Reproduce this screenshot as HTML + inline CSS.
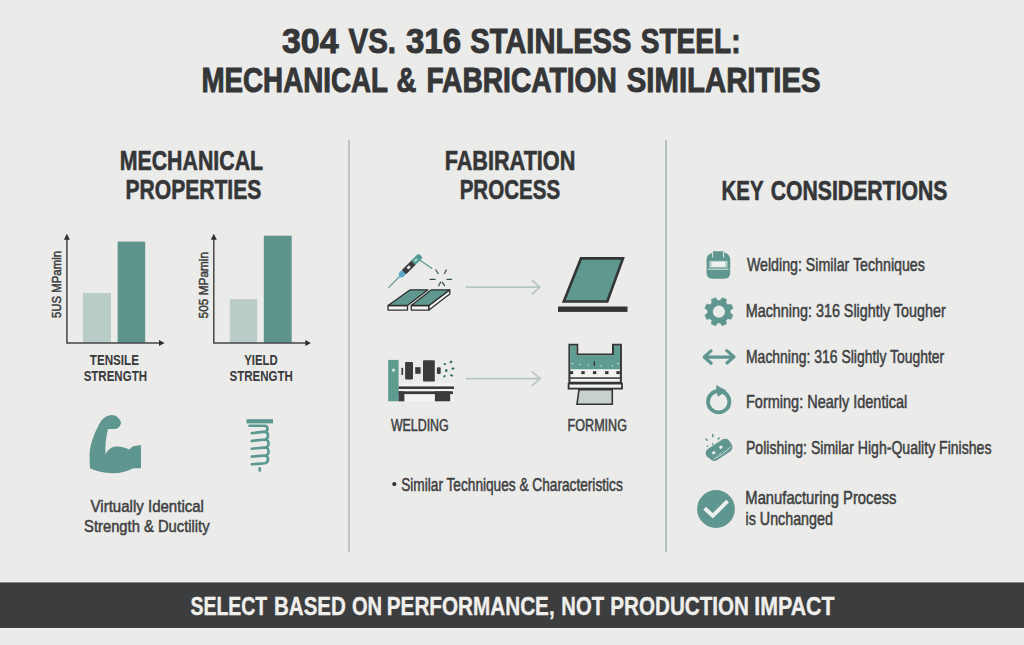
<!DOCTYPE html>
<html>
<head>
<meta charset="utf-8">
<style>
html,body{margin:0;padding:0;width:1024px;height:645px;overflow:hidden;background:#ebebea;}
svg{position:absolute;left:0;top:0;display:block;}
text{font-family:"Liberation Sans",sans-serif;}
.h{font-weight:bold;fill:#353638;stroke:#353638;stroke-width:0.6px;}
.t{font-weight:bold;fill:#353638;stroke:#353638;stroke-width:1px;}
.l{font-weight:bold;fill:#38393b;}
.b{font-weight:normal;fill:#3e3f41;stroke:#3e3f41;stroke-width:0.5px;}
.w{font-weight:bold;fill:#f1efeb;stroke:#f1efeb;stroke-width:0.4px;}
</style>
</head>
<body>
<svg width="1024" height="645" viewBox="0 0 1024 645">
  <!-- title -->

  <!-- dividers -->
  <rect x="348" y="140" width="2" height="412" fill="#bcc4c4"/>
  <rect x="665" y="140" width="2" height="412" fill="#b4c0c0"/>

  <!-- section headers -->

  <!-- chart 1 -->
  <rect x="83" y="293" width="28" height="50" fill="#b9ccc8"/>
  <rect x="117.6" y="241.6" width="27.6" height="101.4" fill="#5f948d"/>
  <path d="M66.9 237 V342.9 H161" fill="none" stroke="#45464a" stroke-width="1.5"/>
  <path d="M63.9,239.7 L66.9,233.8 L69.9,239.7 Z" fill="#2e2f31"/>
  <path d="M159,339.9 L164.6,342.9 L159,345.9 Z" fill="#2e2f31"/>
  <text class="b" transform="translate(60.5 318) rotate(-90)" font-size="12.5" textLength="67" lengthAdjust="spacingAndGlyphs">5US MPamin</text>

  <!-- chart 2 -->
  <rect x="229.8" y="299.2" width="27.4" height="43.8" fill="#b9ccc8"/>
  <rect x="263.8" y="235.7" width="27.9" height="107.3" fill="#5f948d"/>
  <path d="M213.8 237 V342.9 H307" fill="none" stroke="#45464a" stroke-width="1.5"/>
  <path d="M210.8,239.7 L213.8,233.8 L216.8,239.7 Z" fill="#2e2f31"/>
  <path d="M305.4,339.9 L310.9,342.9 L305.4,345.9 Z" fill="#2e2f31"/>
  <text class="b" transform="translate(207.5 318.4) rotate(-90)" font-size="12.5" textLength="66.5" lengthAdjust="spacingAndGlyphs">505 MPamin</text>

  <!-- muscle -->
  <path d="M101,421 C104,417 108,415 112,415 C116,415 119,418 121,422 C121,426 118,429 115,429 L108,429 C106,437 105,446 105.5,454.5 C108,449 112,446.5 117,446.5 C122,446.5 126,448 129.5,449.5 C132,446 136,445.3 141,445.3 L141,468.2 C138,468.5 135,468 132,468.8 C126,472 119,473.5 112,473.2 C104,473 96,471 90,468.2 C89.5,460 89.5,452 90,449.6 C92,438 96,430 101,421 Z" fill="#5f9690"/>

  <!-- spring -->
  <rect x="246.5" y="419.2" width="26.5" height="4.2" fill="#5a978f"/>
  <path d="M249.5,425.7 H265 A3.1,3 0 0 1 265,431.6 A3.6,4 0 0 1 265,439.5 A3.6,4 0 0 1 265,447.5 A3.6,4 0 0 1 265,455.5 A3.6,3.9 0 0 1 265,463.2 M265,431.6 L251.8,433.2 M265,439.5 L251.8,440.9 M265,447.5 L251.8,448.7 M265,455.5 L251.8,456.6 M265,463.2 L251.8,464.3" fill="none" stroke="#5a978f" stroke-width="2.6" stroke-linecap="round"/>
  <rect x="258.5" y="467" width="2.6" height="4.8" rx="1.2" fill="#5a978f"/>


  <!-- welding icon -->
  <g stroke-linecap="round">
    <line x1="398.8" y1="277.4" x2="388.7" y2="287.4" stroke="#5a9a90" stroke-width="1.3"/>
    <line x1="419" y1="259.5" x2="431.7" y2="268.3" stroke="#5a9a90" stroke-width="1.3"/>
    <g transform="translate(409.6 266.5) rotate(-45)">
      <path d="M-15.5,0 L-12,-2.6 H-7 V2.6 H-12 Z" fill="#5aa5c5"/>
      <ellipse cx="-10.5" cy="0" rx="3.6" ry="2.9" fill="#5aa5c5"/>
      <rect x="-8" y="-3" width="14" height="6" rx="0.8" fill="#3a3b3d"/>
      <rect x="5" y="-3" width="10.5" height="6" rx="1.5" fill="#4e9a92"/>
      <rect x="7" y="-1.3" width="4" height="2.4" rx="1" fill="#a8d0c8"/>
      <rect x="-3" y="-1.3" width="3.5" height="2.6" fill="#e8e8e8"/>
    </g>
    <g stroke="#2f4f4d" stroke-width="1.2">
      <line x1="435.8" y1="270" x2="438.1" y2="273.5"/>
      <line x1="446.3" y1="270" x2="444.5" y2="273.5"/>
      <line x1="430" y1="279.3" x2="435.2" y2="279.3"/>
      <line x1="446.9" y1="279.3" x2="451.5" y2="279.3"/>
      <line x1="438.7" y1="285.7" x2="440.5" y2="282.2"/>
      <line x1="442.2" y1="282.2" x2="444.5" y2="285.7"/>
    </g>
  </g>
  <g stroke="#2e2f31" stroke-width="1.3" stroke-linejoin="round">
    <rect x="388" y="305.5" width="19.5" height="4.6" fill="#f4f4f2"/>
    <rect x="411.3" y="305.5" width="17.5" height="4.6" fill="#f4f4f2"/>
    <path d="M449.8,289.8 V294 L429,310.1 V305.5 Z" fill="#f4f4f2"/>
    <path d="M410.2,289.8 H428 L407.5,305.5 H388.1 Z" fill="#5e988e"/>
    <path d="M431.4,289.8 H449.8 L428.8,305.5 H411.3 Z" fill="#5e988e"/>
  </g>

  <!-- arrows -->
  <g fill="none" stroke="#b6c5c6" stroke-width="1.6" stroke-linecap="round" stroke-linejoin="round">
    <path d="M466.2,287.1 H540 M532.3,280.3 L540,287.1 L532.3,293.9"/>
    <path d="M466.2,378.6 H540.2 M532.3,371.9 L540.2,378.6 L532.3,385.3"/>
  </g>

  <!-- sheet icon -->
  <path d="M581,258.4 H623 L607.3,301.5 H563.8 Z" fill="#5e988e" stroke="#333436" stroke-width="2.6" stroke-linejoin="miter"/>
  <rect x="558" y="306.5" width="69.5" height="5.4" fill="#333436"/>

  <!-- lathe icon -->
  <rect x="398.6" y="383.5" width="55.4" height="17.8" fill="#f3f3f2"/>
  <rect x="388.2" y="359.9" width="10.4" height="41.4" fill="#5e9c90"/>
  <ellipse cx="393.5" cy="370.1" rx="1.3" ry="1.7" fill="#f4f4f2"/>
  <g fill="#3a3b3d">
    <rect x="401.4" y="367.8" width="1.7" height="7.2" rx="0.7"/>
    <rect x="405.1" y="362" width="7.9" height="17.4" rx="0.8"/>
    <rect x="415.2" y="367.2" width="5.4" height="6.6"/>
    <rect x="423" y="360.2" width="11.8" height="21.3" rx="0.9"/>
    <rect x="436.9" y="367.2" width="3.8" height="6.8" rx="1.2"/>
    <rect x="398.6" y="386.4" width="55.4" height="2.6"/>
    <rect x="398.6" y="391.3" width="54.4" height="2.8"/>
    <rect x="398.6" y="391.3" width="5.8" height="10"/>
    <rect x="434.9" y="391.3" width="15.3" height="10"/>
  </g>
  <g fill="#2a6a5e">
    <ellipse cx="444.9" cy="364.1" rx="1.2" ry="1.1"/>
    <ellipse cx="451" cy="361.9" rx="1.5" ry="1.1" transform="rotate(-30 451 361.9)"/>
    <ellipse cx="453" cy="368.5" rx="1.7" ry="1" transform="rotate(-15 453 368.5)"/>
    <ellipse cx="446.3" cy="370.5" rx="1.2" ry="1.5"/>
    <ellipse cx="444.5" cy="376.3" rx="1" ry="1.3" transform="rotate(30 444.5 376.3)"/>
    <ellipse cx="451.6" cy="375.4" rx="1.7" ry="1" transform="rotate(20 451.6 375.4)"/>
  </g>

  <!-- press icon -->
  <path d="M569.4,344.7 H577.3 V354.6 H613 V344.7 H620.9 V382.7 H569.4 Z" fill="#f2f2f0" stroke="#333436" stroke-width="2"/>
  <path d="M570.4,345.7 H576.3 V355.6 H614 V345.7 H619.9 V369.3 H570.4 Z" fill="#5e9c92"/>
  <g fill="#333436">
    <rect x="569.8" y="371.2" width="3.4" height="2.9"/>
    <rect x="581.3" y="371.2" width="3.4" height="2.9"/>
    <rect x="592.9" y="371.2" width="3.4" height="2.9"/>
    <rect x="605.1" y="371.2" width="3.4" height="2.9"/>
    <rect x="616.4" y="371.2" width="3.4" height="2.9"/>
    <rect x="570" y="377.3" width="50" height="1.5"/>
  </g>
  <g fill="#d8e8e4">
    <circle cx="572.5" cy="363.5" r="0.8"/>
    <circle cx="580" cy="364.5" r="0.7"/>
    <circle cx="588.5" cy="365" r="0.7"/>
    <circle cx="601" cy="366" r="0.7"/>
    <circle cx="612.5" cy="366" r="0.7"/>
    <circle cx="618" cy="363.5" r="0.8"/>
  </g>
  <rect x="593.6" y="361.2" width="1.4" height="4.5" fill="#333436"/>
  <rect x="568.6" y="383.6" width="53.4" height="5" fill="#f2f2f0" stroke="#333436" stroke-width="1.8"/>
  <path d="M579,389.6 H612.3 V404.3 H577 Z" fill="#c9d1cd" stroke="#333436" stroke-width="1.6"/>

  <circle cx="394.3" cy="484.1" r="2.1" fill="#333436"/>

  <!-- right list -->
  <path d="M712,253 L713.2,251.2 H723.4 L724.5,252.6 Q729.5,254 730.2,258.5 V273 Q730.2,278.7 724.5,278.7 H712.3 Q706.6,278.7 706.6,273 V258.5 Q707.3,254.2 712,253 Z" fill="#5f9690"/>
  <g stroke="#e3eae8" stroke-width="1" fill="none">
    <line x1="712.6" y1="251.5" x2="712.6" y2="257.6"/>
    <line x1="723.6" y1="251.5" x2="723.6" y2="257.6"/>
    <line x1="708" y1="269.2" x2="728.6" y2="269.2"/>
  </g>
  <rect x="709.3" y="260.8" width="18.2" height="6.8" fill="#b9d2cd"/>
  <rect x="711.6" y="261.9" width="13.4" height="4.9" fill="#eef3f1"/>
  <path d="M730.11,313.10 L732.91,315.01 L731.15,319.26 L727.82,318.64 L725.84,320.62 L726.46,323.95 L722.21,325.71 L720.30,322.91 L717.50,322.91 L715.59,325.71 L711.34,323.95 L711.96,320.62 L709.98,318.64 L706.65,319.26 L704.89,315.01 L707.69,313.10 L707.69,310.30 L704.89,308.39 L706.65,304.14 L709.98,304.76 L711.96,302.78 L711.34,299.45 L715.59,297.69 L717.50,300.49 L720.30,300.49 L722.21,297.69 L726.46,299.45 L725.84,302.78 L727.82,304.76 L731.15,304.14 L732.91,308.39 L730.11,310.30 Z" fill="#5f9690" stroke="#5f9690" stroke-width="0.6" stroke-linejoin="round"/>
  <circle cx="718.9" cy="311.7" r="6.1" fill="#e8ebe9"/>
  <g fill="none" stroke="#5f9690" stroke-width="3.2" stroke-linecap="round" stroke-linejoin="round">
    <path d="M706,357.1 H732.5 M711,350.9 L704.2,357 L711.2,363.2 M726.8,350.6 L734,356.9 L727,363"/>
  </g>
  <circle cx="718.7" cy="401.7" r="10.7" fill="none" stroke="#5f9690" stroke-width="3.8"/>
  <path d="M716.4,385.6 L726,390.8 L718,396.2 Z" fill="#5f9690" stroke="#5f9690" stroke-width="0.8" stroke-linejoin="round"/>
  <!-- polishing -->
  <g transform="translate(718.8 449.2) rotate(-33)">
    <rect x="-12.8" y="-4" width="26.3" height="12.2" rx="5.6" fill="#5f9690"/>
    <path d="M-9.5,5.6 Q0,7.2 11.5,4.6 M-10.5,3.6 Q0,5.6 12.2,2.6" fill="none" stroke="#e3eae8" stroke-width="0.75"/>
    <rect x="-14" y="-6.2" width="27.4" height="10.4" rx="5.2" fill="#5f9690"/>
    <rect x="-7.8" y="-1.2" width="3.2" height="2.8" fill="#e6eeec"/>
    <rect x="1.2" y="-1.8" width="3.2" height="2.6" fill="#e6eeec"/>
  </g>
  <g stroke="#5a908a" stroke-width="1.4" stroke-linecap="round">
    <line x1="712.8" y1="434.4" x2="712.8" y2="436.8"/>
    <line x1="705.9" y1="439.1" x2="707.2" y2="440.3"/>
    <line x1="718.2" y1="438.9" x2="719.2" y2="438.1"/>
    <line x1="712.7" y1="443.6" x2="712.7" y2="444.2"/>
    <line x1="707.4" y1="445.9" x2="707.4" y2="446.5"/>
  </g>
  <circle cx="716" cy="509" r="18.9" fill="#5f968f"/>
  <path d="M704.6,508.2 L712.8,515.8 L727.6,501.2" fill="none" stroke="#ecf0ee" stroke-width="3.9" stroke-linecap="butt" stroke-linejoin="miter"/>


  <!-- banner -->
  <rect x="0" y="580.8" width="1024" height="1.6" fill="#f1f1f0"/>
  <rect x="0" y="628" width="1024" height="1.4" fill="#f1f1f0"/>
  <rect x="0" y="582.4" width="1024" height="45.6" fill="#3b3d3f"/>
  <!-- texts -->
  <text class="t" x="282.02" y="52.9" font-size="35.5" textLength="56.46" lengthAdjust="spacingAndGlyphs">304</text>
  <text class="t" x="348.60" y="52.9" font-size="35.5" textLength="47.43" lengthAdjust="spacingAndGlyphs">VS.</text>
  <text class="t" x="405.94" y="52.9" font-size="35.5" textLength="55.15" lengthAdjust="spacingAndGlyphs">316</text>
  <text class="t" x="470.26" y="52.9" font-size="35.5" textLength="161.18" lengthAdjust="spacingAndGlyphs">STAINLESS</text>
  <text class="t" x="640.69" y="52.9" font-size="35.5" textLength="99.91" lengthAdjust="spacingAndGlyphs">STEEL:</text>
  <text class="t" x="201.44" y="91.8" font-size="35.5" textLength="186.51" lengthAdjust="spacingAndGlyphs">MECHANICAL</text>
  <text class="t" x="396.59" y="91.8" font-size="35.5" textLength="19.87" lengthAdjust="spacingAndGlyphs">&amp;</text>
  <text class="t" x="426.42" y="91.8" font-size="35.5" textLength="190.38" lengthAdjust="spacingAndGlyphs">FABRICATION</text>
  <text class="t" x="626.76" y="91.8" font-size="35.5" textLength="193.89" lengthAdjust="spacingAndGlyphs">SIMILARITIES</text>
  <text class="h" x="119.67" y="170.1" font-size="27" textLength="143.48" lengthAdjust="spacingAndGlyphs">MECHANICAL</text>
  <text class="h" x="125.49" y="198.9" font-size="27" textLength="135.83" lengthAdjust="spacingAndGlyphs">PROPERTIES</text>
  <text class="h" x="444.65" y="170.1" font-size="27" textLength="130.71" lengthAdjust="spacingAndGlyphs">FABIRATION</text>
  <text class="h" x="459.63" y="198.9" font-size="27" textLength="100.48" lengthAdjust="spacingAndGlyphs">PROCESS</text>
  <text class="h" x="721.53" y="199.6" font-size="27" textLength="42.10" lengthAdjust="spacingAndGlyphs">KEY</text>
  <text class="h" x="770.73" y="199.6" font-size="27" textLength="176.60" lengthAdjust="spacingAndGlyphs">CONSIDERTIONS</text>
  <text class="l" x="89.77" y="364.6" font-size="15" textLength="49.19" lengthAdjust="spacingAndGlyphs">TENSILE</text>
  <text class="l" x="83.67" y="380.7" font-size="15" textLength="63.31" lengthAdjust="spacingAndGlyphs">STRENGTH</text>
  <text class="l" x="244.21" y="365.0" font-size="15" textLength="33.37" lengthAdjust="spacingAndGlyphs">YIELD</text>
  <text class="l" x="229.47" y="381.1" font-size="15" textLength="63.31" lengthAdjust="spacingAndGlyphs">STRENGTH</text>
  <text class="b" x="90.58" y="512" font-size="17" textLength="113.37" lengthAdjust="spacingAndGlyphs">Virtually Identical</text>
  <text class="b" x="84.08" y="531.7" font-size="17" textLength="125.50" lengthAdjust="spacingAndGlyphs">Strength &amp; Ductility</text>
  <text class="b" x="390.90" y="430.8" font-size="15.6" textLength="57.78" lengthAdjust="spacingAndGlyphs">WELDING</text>
  <text class="b" x="567.62" y="430.8" font-size="15.6" textLength="59.37" lengthAdjust="spacingAndGlyphs">FORMING</text>
  <text class="b" x="401.23" y="490.8" font-size="17.5" textLength="221.51" lengthAdjust="spacingAndGlyphs">Similar Techniques &amp; Characteristics</text>
  <text class="b" x="746.89" y="271.1" font-size="17.8" textLength="177.98" lengthAdjust="spacingAndGlyphs">Welding: Similar Techniques</text>
  <text class="b" x="745.77" y="317" font-size="17.8" textLength="199.92" lengthAdjust="spacingAndGlyphs">Machning: 316 Slightly Tougher</text>
  <text class="b" x="746.00" y="363.3" font-size="17.8" textLength="198.28" lengthAdjust="spacingAndGlyphs">Machning: 316 Slightly Toughter</text>
  <text class="b" x="745.96" y="408" font-size="17.8" textLength="161.26" lengthAdjust="spacingAndGlyphs">Forming: Nearly Identical</text>
  <text class="b" x="745.99" y="454" font-size="17.8" textLength="245.46" lengthAdjust="spacingAndGlyphs">Polishing: Similar High-Quality Finishes</text>
  <text class="b" x="745.34" y="503.6" font-size="17.8" textLength="151.15" lengthAdjust="spacingAndGlyphs">Manufacturing Process</text>
  <text class="b" x="745.59" y="525.1" font-size="17.8" textLength="87.28" lengthAdjust="spacingAndGlyphs">is Unchanged</text>
  <text class="w" x="190.44" y="615.1" font-size="26.7" textLength="76.77" lengthAdjust="spacingAndGlyphs">SELECT</text>
  <text class="w" x="274.03" y="615.1" font-size="26.7" textLength="71.84" lengthAdjust="spacingAndGlyphs">BASED</text>
  <text class="w" x="351.97" y="615.1" font-size="26.7" textLength="30.18" lengthAdjust="spacingAndGlyphs">ON</text>
  <text class="w" x="386.82" y="615.1" font-size="26.7" textLength="167.87" lengthAdjust="spacingAndGlyphs">PERFORMANCE,</text>
  <text class="w" x="561.34" y="615.1" font-size="26.7" textLength="42.77" lengthAdjust="spacingAndGlyphs">NOT</text>
  <text class="w" x="610.32" y="615.1" font-size="26.7" textLength="138.67" lengthAdjust="spacingAndGlyphs">PRODUCTION</text>
  <text class="w" x="754.37" y="615.1" font-size="26.7" textLength="80.16" lengthAdjust="spacingAndGlyphs">IMPACT</text>

</svg>
</body>
</html>
